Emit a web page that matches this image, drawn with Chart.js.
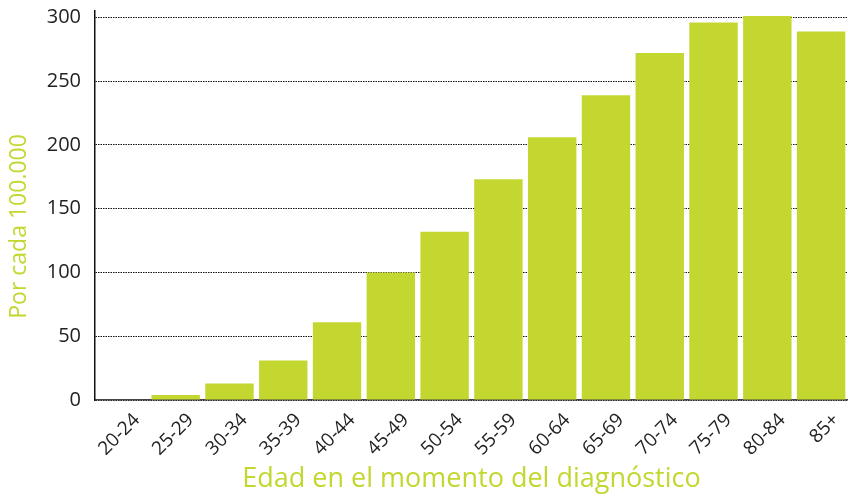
<!DOCTYPE html>
<html>
<head>
<meta charset="utf-8">
<script src="https://cdn.jsdelivr.net/npm/chart.js@4/dist/chart.umd.min.js"></script>
<style>
  html, body { margin: 0; padding: 0; background: #fff; }
  #caja { width: 848px; height: 496px; }
</style>
</head>
<body>
<div id="caja"><canvas id="grafico"></canvas></div>
<script>
var grupos = ['20-24', '25-29', '30-34', '35-39', '40-44', '45-49', '50-54', '55-59', '60-64', '65-69', '70-74', '75-79', '80-84', '85+'];
var tasas = [0.4, 4, 13, 31, 61, 100, 132, 173, 206, 239, 272, 296, 301, 289];
var marcasY = [0, 50, 100, 150, 200, 250, 300];

var verde = '#c4d730';
Chart.defaults.font.family = "'Open Sans', 'Noto Sans', sans-serif";

// espacios al final para bajar un poco el título vertical
var tituloY = 'Por cada 100.000' + '\u00a0'.repeat(7);

new Chart(document.getElementById('grafico'), {
    type: 'bar',
    data: {
        labels: grupos,
        datasets: [{
            label: 'Por cada 100.000',
            data: tasas,
            backgroundColor: verde,
            borderWidth: 0,
            barPercentage: 0.9,
            categoryPercentage: 1
        }]
    },
    options: {
        responsive: true,
        maintainAspectRatio: false,
        animation: false,
        layout: { padding: 0 },
        plugins: {
            legend: { display: false },
            tooltip: { enabled: false }
        },
        scales: {
            x: {
                grid: { display: false, drawTicks: false },
                border: { display: true, color: '#444', width: 1.5 },
                ticks: {
                    color: '#222',
                    font: { size: 19 },
                    maxRotation: 45,
                    minRotation: 45,
                    padding: 9,
                    labelOffset: 15,
                    autoSkip: false
                },
                title: {
                    display: true,
                    text: 'Edad en el momento del diagnóstico',
                    color: verde,
                    font: { size: 27 },
                    padding: { top: 0, bottom: 0 }
                },
                afterFit: function (escala) { escala.height = 96; }
            },
            y: {
                min: 0,
                max: 305,
                grid: {
                    color: '#111',
                    lineWidth: 1,
                    drawTicks: false
                },
                border: { display: true, color: '#111', width: 1.5, dash: [1.5, 1] },
                ticks: {
                    color: '#222',
                    font: { size: 20 },
                    padding: 14,
                    stepSize: 50
                },
                afterBuildTicks: function (escala) {
                    escala.ticks = marcasY.map(function (v) { return { value: v }; });
                },
                title: {
                    display: true,
                    text: tituloY,
                    color: verde,
                    font: { size: 23 },
                    padding: { top: 6, bottom: 0 }
                },
                afterFit: function (escala) {
                    escala.width = 95;
                    escala.paddingTop = 11;
                    escala.paddingBottom = 0;
                }
            }
        }
    }
});
</script>
</body>
</html>
